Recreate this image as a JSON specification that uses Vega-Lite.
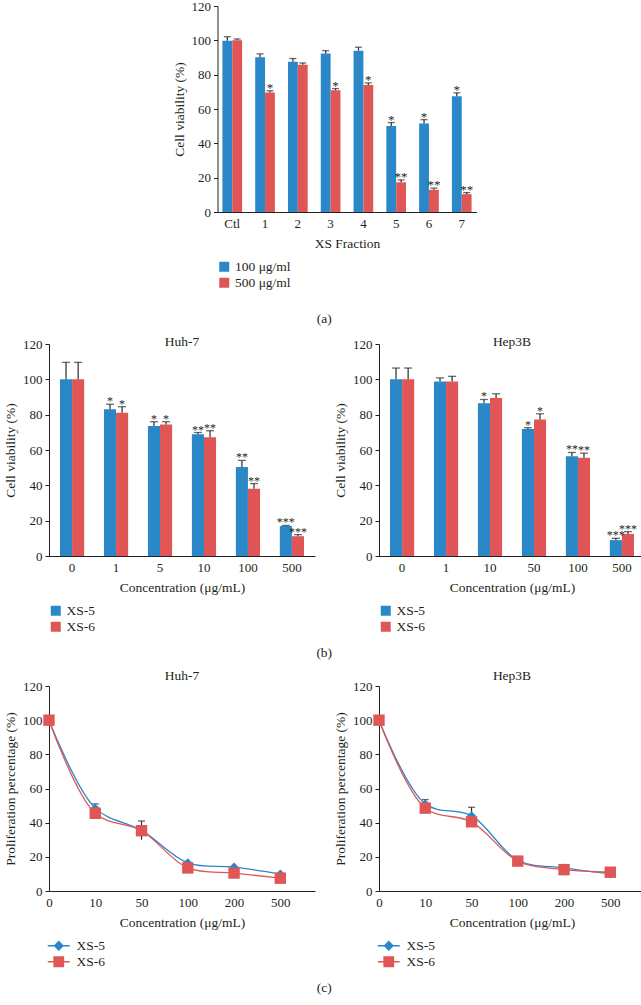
{
  "$schema": "https://vega.github.io/schema/vega-lite/v6.json",
  "background": "white",
  "padding": {"left": 3, "top": 0, "right": 0, "bottom": 4},
  "datasets": {
    "a": [
      {"cat": "Ctl", "dose": "100 μg/ml", "v": 99.8, "hi": 102.1, "sig": ""},
      {"cat": "Ctl", "dose": "500 μg/ml", "v": 100, "hi": 100.8, "sig": ""},
      {"cat": "1", "dose": "100 μg/ml", "v": 90.2, "hi": 92.1, "sig": ""},
      {"cat": "1", "dose": "500 μg/ml", "v": 69.6, "hi": 70.6, "sig": "*"},
      {"cat": "2", "dose": "100 μg/ml", "v": 87.5, "hi": 89.4, "sig": ""},
      {"cat": "2", "dose": "500 μg/ml", "v": 85.8, "hi": 86.8, "sig": ""},
      {"cat": "3", "dose": "100 μg/ml", "v": 92.3, "hi": 94.0, "sig": ""},
      {"cat": "3", "dose": "500 μg/ml", "v": 70.9, "hi": 71.9, "sig": "*"},
      {"cat": "4", "dose": "100 μg/ml", "v": 94.0, "hi": 96.0, "sig": ""},
      {"cat": "4", "dose": "500 μg/ml", "v": 74.0, "hi": 75.2, "sig": "*"},
      {"cat": "5", "dose": "100 μg/ml", "v": 50.1, "hi": 52.1, "sig": "*"},
      {"cat": "5", "dose": "500 μg/ml", "v": 17.3, "hi": 18.7, "sig": "**"},
      {"cat": "6", "dose": "100 μg/ml", "v": 51.6, "hi": 53.8, "sig": "*"},
      {"cat": "6", "dose": "500 μg/ml", "v": 12.9, "hi": 13.9, "sig": "**"},
      {"cat": "7", "dose": "100 μg/ml", "v": 67.4, "hi": 69.4, "sig": "*"},
      {"cat": "7", "dose": "500 μg/ml", "v": 10.4, "hi": 11.3, "sig": "**"}
    ],
    "bHuh": [
      {"conc": "0", "series": "XS-5", "v": 100, "hi": 109.6, "sig": ""},
      {"conc": "0", "series": "XS-6", "v": 100, "hi": 109.6, "sig": ""},
      {"conc": "1", "series": "XS-5", "v": 83.1, "hi": 85.9, "sig": "*"},
      {"conc": "1", "series": "XS-6", "v": 81.1, "hi": 84.5, "sig": "*"},
      {"conc": "5", "series": "XS-5", "v": 73.6, "hi": 76.0, "sig": "*"},
      {"conc": "5", "series": "XS-6", "v": 74.5, "hi": 76.0, "sig": "*"},
      {"conc": "10", "series": "XS-5", "v": 68.9, "hi": 69.9, "sig": "**"},
      {"conc": "10", "series": "XS-6", "v": 67.2, "hi": 70.9, "sig": "**"},
      {"conc": "100", "series": "XS-5", "v": 50.4, "hi": 54.1, "sig": "**"},
      {"conc": "100", "series": "XS-6", "v": 38.0, "hi": 41.0, "sig": "**"},
      {"conc": "500", "series": "XS-5", "v": 17.0, "hi": 17.3, "sig": "***"},
      {"conc": "500", "series": "XS-6", "v": 11.2, "hi": 12.1, "sig": "***"}
    ],
    "bHep": [
      {"conc": "0", "series": "XS-5", "v": 100, "hi": 106.4, "sig": ""},
      {"conc": "0", "series": "XS-6", "v": 100, "hi": 106.4, "sig": ""},
      {"conc": "1", "series": "XS-5", "v": 98.8, "hi": 100.8, "sig": ""},
      {"conc": "1", "series": "XS-6", "v": 98.8, "hi": 101.7, "sig": ""},
      {"conc": "10", "series": "XS-5", "v": 86.5, "hi": 88.6, "sig": "*"},
      {"conc": "10", "series": "XS-6", "v": 89.4, "hi": 91.8, "sig": ""},
      {"conc": "50", "series": "XS-5", "v": 71.9, "hi": 72.6, "sig": "*"},
      {"conc": "50", "series": "XS-6", "v": 77.2, "hi": 80.5, "sig": "*"},
      {"conc": "100", "series": "XS-5", "v": 56.5, "hi": 58.6, "sig": "**"},
      {"conc": "100", "series": "XS-6", "v": 55.6, "hi": 58.2, "sig": "**"},
      {"conc": "500", "series": "XS-5", "v": 9.0, "hi": 10.0, "sig": "***"},
      {"conc": "500", "series": "XS-6", "v": 12.5, "hi": 13.8, "sig": "***"}
    ],
    "cHuh": [
      {"conc": "0", "series": "XS-5", "v": 100},
      {"conc": "10", "series": "XS-5", "v": 48.5, "lo": 46, "hi": 51, "sig": "**"},
      {"conc": "50", "series": "XS-5", "v": 35.5, "lo": 30, "hi": 41, "sig": "**"},
      {"conc": "100", "series": "XS-5", "v": 16.5, "hi": 19, "sig": "***"},
      {"conc": "200", "series": "XS-5", "v": 14.0, "hi": 16, "sig": "***"},
      {"conc": "500", "series": "XS-5", "v": 10.0, "hi": 12.5, "sig": "***"},
      {"conc": "0", "series": "XS-6", "v": 100},
      {"conc": "10", "series": "XS-6", "v": 45.5},
      {"conc": "50", "series": "XS-6", "v": 35.3},
      {"conc": "100", "series": "XS-6", "v": 13.5},
      {"conc": "200", "series": "XS-6", "v": 10.5},
      {"conc": "500", "series": "XS-6", "v": 7.5}
    ],
    "cHep": [
      {"conc": "0", "series": "XS-5", "v": 100},
      {"conc": "10", "series": "XS-5", "v": 51.0, "lo": 48.5, "hi": 53.5, "sig": "**"},
      {"conc": "50", "series": "XS-5", "v": 44.0, "lo": 39, "hi": 49, "sig": "**"},
      {"conc": "100", "series": "XS-5", "v": 18.0, "hi": 20.7, "sig": "***"},
      {"conc": "200", "series": "XS-5", "v": 13.5, "hi": 16.8, "sig": "***"},
      {"conc": "500", "series": "XS-5", "v": 10.0, "hi": 14.0, "sig": "***"},
      {"conc": "0", "series": "XS-6", "v": 100},
      {"conc": "10", "series": "XS-6", "v": 48.5},
      {"conc": "50", "series": "XS-6", "v": 40.5},
      {"conc": "100", "series": "XS-6", "v": 17.5},
      {"conc": "200", "series": "XS-6", "v": 12.5},
      {"conc": "500", "series": "XS-6", "v": 11.0}
    ]
  },
  "config": {
    "font": "Liberation Serif",
    "view": {"stroke": null},
    "axis": {
      "labelFont": "Liberation Serif", "titleFont": "Liberation Serif",
      "labelFontSize": 13, "titleFontSize": 13.5, "titleFontWeight": "normal",
      "labelColor": "#231f20", "titleColor": "#231f20",
      "domainColor": "#231f20", "tickColor": "#231f20",
      "grid": false, "tickSize": 4, "labelPadding": 3
    },
    "axisX": {"ticks": false, "labelAngle": 0, "labelPadding": 5, "titlePadding": 6},
    "axisY": {"titlePadding": 5, "tickCount": 7, "labelOverlap": false},
    "legend": {
      "orient": "bottom", "direction": "vertical", "title": null,
      "labelFont": "Liberation Serif", "labelFontSize": 13.5, "labelColor": "#231f20",
      "symbolSize": 100, "rowPadding": 1, "offset": 10, "padding": 0, "symbolType": "square"
    },
    "title": {"font": "Liberation Serif", "fontSize": 13.5, "fontWeight": "normal", "color": "#231f20"},
    "text": {"font": "Liberation Serif"}
  },
  "resolve": {"scale": {"color": "independent"}, "legend": {"color": "independent"}},
  "center": true,
  "spacing": 8,
  "vconcat": [
    {
      "width": 259, "height": 206,
      "data": {"name": "a"},
      "title": {"text": "(a)", "orient": "bottom", "frame": "bounds", "anchor": "middle", "offset": 22},
      "encoding": {
        "x": {"field": "cat", "type": "nominal", "sort": ["Ctl", "1", "2", "3", "4", "5", "6", "7"],
              "scale": {"type": "band", "paddingInner": 0.4, "paddingOuter": 0.15},
              "axis": {"title": "XS Fraction"}}
      },
      "layer": [
        {"transform": [{"filter": "datum.dose === '100 μg/ml'"}],
         "mark": {"type": "bar", "width": 9.83, "xOffset": -4.92},
         "encoding": {
           "y": {"field": "v", "type": "quantitative", "scale": {"domain": [0, 120], "nice": false},
                 "axis": {"title": "Cell viability (%)", "values": [0, 20, 40, 60, 80, 100, 120]}},
           "color": {"field": "dose", "type": "nominal", "sort": ["100 μg/ml", "500 μg/ml"],
                     "scale": {"domain": ["100 μg/ml", "500 μg/ml"], "range": ["#2A87C8", "#E05656"]}}
         }},
        {"transform": [{"filter": "datum.dose === '500 μg/ml'"}],
         "mark": {"type": "bar", "width": 9.83, "xOffset": 4.92},
         "encoding": {
           "y": {"field": "v", "type": "quantitative"},
           "color": {"field": "dose", "type": "nominal", "sort": ["100 μg/ml", "500 μg/ml"]}
         }},
        {"transform": [{"filter": "datum.dose === '100 μg/ml'"}],
         "mark": {"type": "rule", "color": "#2b2b2b", "strokeWidth": 1.2, "xOffset": -4.92},
         "encoding": {"y": {"field": "v", "type": "quantitative"}, "y2": {"field": "hi"}}},
        {"transform": [{"filter": "datum.dose === '500 μg/ml'"}],
         "mark": {"type": "rule", "color": "#2b2b2b", "strokeWidth": 1.2, "xOffset": 4.92},
         "encoding": {"y": {"field": "v", "type": "quantitative"}, "y2": {"field": "hi"}}},
        {"transform": [{"filter": "datum.dose === '100 μg/ml'"}],
         "mark": {"type": "tick", "orient": "horizontal", "color": "#2b2b2b", "thickness": 1.3, "size": 7, "xOffset": -4.92},
         "encoding": {"y": {"field": "hi", "type": "quantitative"}}},
        {"transform": [{"filter": "datum.dose === '500 μg/ml'"}],
         "mark": {"type": "tick", "orient": "horizontal", "color": "#2b2b2b", "thickness": 1.3, "size": 7, "xOffset": 4.92},
         "encoding": {"y": {"field": "hi", "type": "quantitative"}}},
        {"transform": [{"filter": "datum.dose === '100 μg/ml'"}],
         "mark": {"type": "text", "fontSize": 13, "baseline": "alphabetic", "dy": 1, "dx": -4.92, "color": "#231f20"},
         "encoding": {"y": {"field": "hi", "type": "quantitative"}, "text": {"field": "sig"}}},
        {"transform": [{"filter": "datum.dose === '500 μg/ml'"}],
         "mark": {"type": "text", "fontSize": 13, "baseline": "alphabetic", "dy": 1, "dx": 4.92, "color": "#231f20"},
         "encoding": {"y": {"field": "hi", "type": "quantitative"}, "text": {"field": "sig"}}}
      ]
    },
    {
      "title": {"text": "(b)", "orient": "bottom", "anchor": "middle", "offset": 12},
      "resolve": {"scale": {"color": "independent"}, "legend": {"color": "independent"}},
      "spacing": 18,
      "hconcat": [
        {
          "width": 266, "height": 212,
          "title": {"text": "Huh-7", "offset": -10},
          "data": {"name": "bHuh"},
          "encoding": {
            "x": {"field": "conc", "type": "nominal", "sort": ["0", "1", "5", "10", "100", "500"],
                  "scale": {"type": "band", "paddingInner": 0.45, "paddingOuter": 0.25},
                  "axis": {"title": "Concentration (μg/mL)"}}
          },
          "layer": [
            {"transform": [{"filter": "datum.series === 'XS-5'"}],
             "mark": {"type": "bar", "width": 12.09, "xOffset": -6.05},
             "encoding": {
               "y": {"field": "v", "type": "quantitative", "scale": {"domain": [0, 120], "nice": false},
                     "axis": {"title": "Cell viability (%)", "values": [0, 20, 40, 60, 80, 100, 120]}},
               "color": {"field": "series", "type": "nominal", "sort": ["XS-5", "XS-6"],
                         "scale": {"domain": ["XS-5", "XS-6"], "range": ["#2A87C8", "#E05656"]}}
             }},
            {"transform": [{"filter": "datum.series === 'XS-6'"}],
             "mark": {"type": "bar", "width": 12.09, "xOffset": 6.05},
             "encoding": {
               "y": {"field": "v", "type": "quantitative"},
               "color": {"field": "series", "type": "nominal", "sort": ["XS-5", "XS-6"]}
             }},
            {"transform": [{"filter": "datum.series === 'XS-5'"}],
             "mark": {"type": "rule", "color": "#2b2b2b", "strokeWidth": 1.2, "xOffset": -6.05},
             "encoding": {"y": {"field": "v", "type": "quantitative"}, "y2": {"field": "hi"}}},
            {"transform": [{"filter": "datum.series === 'XS-6'"}],
             "mark": {"type": "rule", "color": "#2b2b2b", "strokeWidth": 1.2, "xOffset": 6.05},
             "encoding": {"y": {"field": "v", "type": "quantitative"}, "y2": {"field": "hi"}}},
            {"transform": [{"filter": "datum.series === 'XS-5'"}],
             "mark": {"type": "tick", "orient": "horizontal", "color": "#2b2b2b", "thickness": 1.3, "size": 8, "xOffset": -6.05},
             "encoding": {"y": {"field": "hi", "type": "quantitative"}}},
            {"transform": [{"filter": "datum.series === 'XS-6'"}],
             "mark": {"type": "tick", "orient": "horizontal", "color": "#2b2b2b", "thickness": 1.3, "size": 8, "xOffset": 6.05},
             "encoding": {"y": {"field": "hi", "type": "quantitative"}}},
            {"transform": [{"filter": "datum.series === 'XS-5'"}],
             "mark": {"type": "text", "fontSize": 12, "baseline": "alphabetic", "dy": 1, "dx": -6.05, "color": "#231f20"},
             "encoding": {"y": {"field": "hi", "type": "quantitative"}, "text": {"field": "sig"}}},
            {"transform": [{"filter": "datum.series === 'XS-6'"}],
             "mark": {"type": "text", "fontSize": 12, "baseline": "alphabetic", "dy": 1, "dx": 6.05, "color": "#231f20"},
             "encoding": {"y": {"field": "hi", "type": "quantitative"}, "text": {"field": "sig"}}}
          ]
        },
        {
          "width": 266, "height": 212,
          "title": {"text": "Hep3B", "offset": -10},
          "data": {"name": "bHep"},
          "encoding": {
            "x": {"field": "conc", "type": "nominal", "sort": ["0", "1", "10", "50", "100", "500"],
                  "scale": {"type": "band", "paddingInner": 0.45, "paddingOuter": 0.25},
                  "axis": {"title": "Concentration (μg/mL)"}}
          },
          "layer": [
            {"transform": [{"filter": "datum.series === 'XS-5'"}],
             "mark": {"type": "bar", "width": 12.09, "xOffset": -6.05},
             "encoding": {
               "y": {"field": "v", "type": "quantitative", "scale": {"domain": [0, 120], "nice": false},
                     "axis": {"title": "Cell viability (%)", "values": [0, 20, 40, 60, 80, 100, 120]}},
               "color": {"field": "series", "type": "nominal", "sort": ["XS-5", "XS-6"],
                         "scale": {"domain": ["XS-5", "XS-6"], "range": ["#2A87C8", "#E05656"]}}
             }},
            {"transform": [{"filter": "datum.series === 'XS-6'"}],
             "mark": {"type": "bar", "width": 12.09, "xOffset": 6.05},
             "encoding": {
               "y": {"field": "v", "type": "quantitative"},
               "color": {"field": "series", "type": "nominal", "sort": ["XS-5", "XS-6"]}
             }},
            {"transform": [{"filter": "datum.series === 'XS-5'"}],
             "mark": {"type": "rule", "color": "#2b2b2b", "strokeWidth": 1.2, "xOffset": -6.05},
             "encoding": {"y": {"field": "v", "type": "quantitative"}, "y2": {"field": "hi"}}},
            {"transform": [{"filter": "datum.series === 'XS-6'"}],
             "mark": {"type": "rule", "color": "#2b2b2b", "strokeWidth": 1.2, "xOffset": 6.05},
             "encoding": {"y": {"field": "v", "type": "quantitative"}, "y2": {"field": "hi"}}},
            {"transform": [{"filter": "datum.series === 'XS-5'"}],
             "mark": {"type": "tick", "orient": "horizontal", "color": "#2b2b2b", "thickness": 1.3, "size": 8, "xOffset": -6.05},
             "encoding": {"y": {"field": "hi", "type": "quantitative"}}},
            {"transform": [{"filter": "datum.series === 'XS-6'"}],
             "mark": {"type": "tick", "orient": "horizontal", "color": "#2b2b2b", "thickness": 1.3, "size": 8, "xOffset": 6.05},
             "encoding": {"y": {"field": "hi", "type": "quantitative"}}},
            {"transform": [{"filter": "datum.series === 'XS-5'"}],
             "mark": {"type": "text", "fontSize": 12, "baseline": "alphabetic", "dy": 1, "dx": -6.05, "color": "#231f20"},
             "encoding": {"y": {"field": "hi", "type": "quantitative"}, "text": {"field": "sig"}}},
            {"transform": [{"filter": "datum.series === 'XS-6'"}],
             "mark": {"type": "text", "fontSize": 12, "baseline": "alphabetic", "dy": 1, "dx": 6.05, "color": "#231f20"},
             "encoding": {"y": {"field": "hi", "type": "quantitative"}, "text": {"field": "sig"}}}
          ]
        }
      ]
    },
    {
      "title": {"text": "(c)", "orient": "bottom", "anchor": "middle", "offset": 11},
      "resolve": {"scale": {"color": "independent"}, "legend": {"color": "independent"}},
      "spacing": 18,
      "hconcat": [
        {
          "width": 266, "height": 205,
          "title": {"text": "Huh-7", "offset": -2},
          "data": {"name": "cHuh"},
          "encoding": {
            "x": {"field": "conc", "type": "ordinal", "sort": ["0", "10", "50", "100", "200", "500"],
                  "scale": {"type": "point", "padding": 0.375, "align": 0},
                  "axis": {"title": "Concentration (μg/mL)"}}
          },
          "layer": [
            {"transform": [{"filter": {"field": "lo", "valid": true}}],
             "mark": {"type": "rule", "color": "#2b2b2b", "strokeWidth": 1.2},
             "encoding": {"y": {"field": "lo", "type": "quantitative", "scale": {"domain": [0, 120], "nice": false},
                                "axis": {"title": "Proliferation percentage (%)", "values": [0, 20, 40, 60, 80, 100, 120]}},
                          "y2": {"field": "hi"}}},
            {"transform": [{"filter": {"field": "lo", "valid": true}}],
             "mark": {"type": "tick", "orient": "horizontal", "color": "#2b2b2b", "thickness": 1.3, "size": 7},
             "encoding": {"y": {"field": "hi", "type": "quantitative"}}},
            {"mark": {"type": "line", "interpolate": "catmull-rom", "strokeWidth": 1.3},
             "encoding": {
               "y": {"field": "v", "type": "quantitative"},
               "color": {"field": "series", "type": "nominal", "sort": ["XS-5", "XS-6"],
                         "scale": {"range": ["#2A87C8", "#E05656"]},
                         "legend": {"symbolOffset": 3, "labelOffset": 11,
                           "encode": {"symbols": {"update": {
                             "shape": {"signal": "datum.value === 'XS-5' ? 'M-2.2,0H2.2M0,-0.85L0.85,0L0,0.85L-0.85,0Z' : 'M-2.2,0H2.2M-0.95,-0.95H0.95V0.95H-0.95Z'"},
                             "fill": {"signal": "datum.value === 'XS-5' ? '#2A87C8' : '#E05656'"},
                             "stroke": {"signal": "datum.value === 'XS-5' ? '#2A87C8' : '#E05656'"},
                             "strokeWidth": {"value": 1.3},
                             "opacity": {"value": 1}}}}}}
             }},
            {"transform": [{"filter": "datum.series === 'XS-5'"}],
             "mark": {"type": "point", "shape": "diamond", "filled": true, "size": 80, "color": "#2A87C8", "opacity": 1},
             "encoding": {"y": {"field": "v", "type": "quantitative"}}},
            {"transform": [{"filter": "datum.series === 'XS-6'"}],
             "mark": {"type": "point", "shape": "square", "filled": true, "size": 130, "color": "#E05656", "opacity": 1},
             "encoding": {"y": {"field": "v", "type": "quantitative"}}},
            {"transform": [{"filter": {"field": "sig", "valid": true}}],
             "mark": {"type": "text", "fontSize": 13, "baseline": "alphabetic", "dy": 1, "color": "#231f20"},
             "encoding": {"y": {"field": "hi", "type": "quantitative"}, "text": {"field": "sig"}}}
          ]
        },
        {
          "width": 266, "height": 205,
          "title": {"text": "Hep3B", "offset": -2},
          "data": {"name": "cHep"},
          "encoding": {
            "x": {"field": "conc", "type": "ordinal", "sort": ["0", "10", "50", "100", "200", "500"],
                  "scale": {"type": "point", "padding": 0.375, "align": 0},
                  "axis": {"title": "Concentration (μg/mL)"}}
          },
          "layer": [
            {"transform": [{"filter": {"field": "lo", "valid": true}}],
             "mark": {"type": "rule", "color": "#2b2b2b", "strokeWidth": 1.2},
             "encoding": {"y": {"field": "lo", "type": "quantitative", "scale": {"domain": [0, 120], "nice": false},
                                "axis": {"title": "Proliferation percentage (%)", "values": [0, 20, 40, 60, 80, 100, 120]}},
                          "y2": {"field": "hi"}}},
            {"transform": [{"filter": {"field": "lo", "valid": true}}],
             "mark": {"type": "tick", "orient": "horizontal", "color": "#2b2b2b", "thickness": 1.3, "size": 7},
             "encoding": {"y": {"field": "hi", "type": "quantitative"}}},
            {"mark": {"type": "line", "interpolate": "catmull-rom", "strokeWidth": 1.3},
             "encoding": {
               "y": {"field": "v", "type": "quantitative"},
               "color": {"field": "series", "type": "nominal", "sort": ["XS-5", "XS-6"],
                         "scale": {"range": ["#2A87C8", "#E05656"]},
                         "legend": {"symbolOffset": 3, "labelOffset": 11,
                           "encode": {"symbols": {"update": {
                             "shape": {"signal": "datum.value === 'XS-5' ? 'M-2.2,0H2.2M0,-0.85L0.85,0L0,0.85L-0.85,0Z' : 'M-2.2,0H2.2M-0.95,-0.95H0.95V0.95H-0.95Z'"},
                             "fill": {"signal": "datum.value === 'XS-5' ? '#2A87C8' : '#E05656'"},
                             "stroke": {"signal": "datum.value === 'XS-5' ? '#2A87C8' : '#E05656'"},
                             "strokeWidth": {"value": 1.3},
                             "opacity": {"value": 1}}}}}}
             }},
            {"transform": [{"filter": "datum.series === 'XS-5'"}],
             "mark": {"type": "point", "shape": "diamond", "filled": true, "size": 80, "color": "#2A87C8", "opacity": 1},
             "encoding": {"y": {"field": "v", "type": "quantitative"}}},
            {"transform": [{"filter": "datum.series === 'XS-6'"}],
             "mark": {"type": "point", "shape": "square", "filled": true, "size": 130, "color": "#E05656", "opacity": 1},
             "encoding": {"y": {"field": "v", "type": "quantitative"}}},
            {"transform": [{"filter": {"field": "sig", "valid": true}}],
             "mark": {"type": "text", "fontSize": 13, "baseline": "alphabetic", "dy": 1, "color": "#231f20"},
             "encoding": {"y": {"field": "hi", "type": "quantitative"}, "text": {"field": "sig"}}}
          ]
        }
      ]
    }
  ]
}
